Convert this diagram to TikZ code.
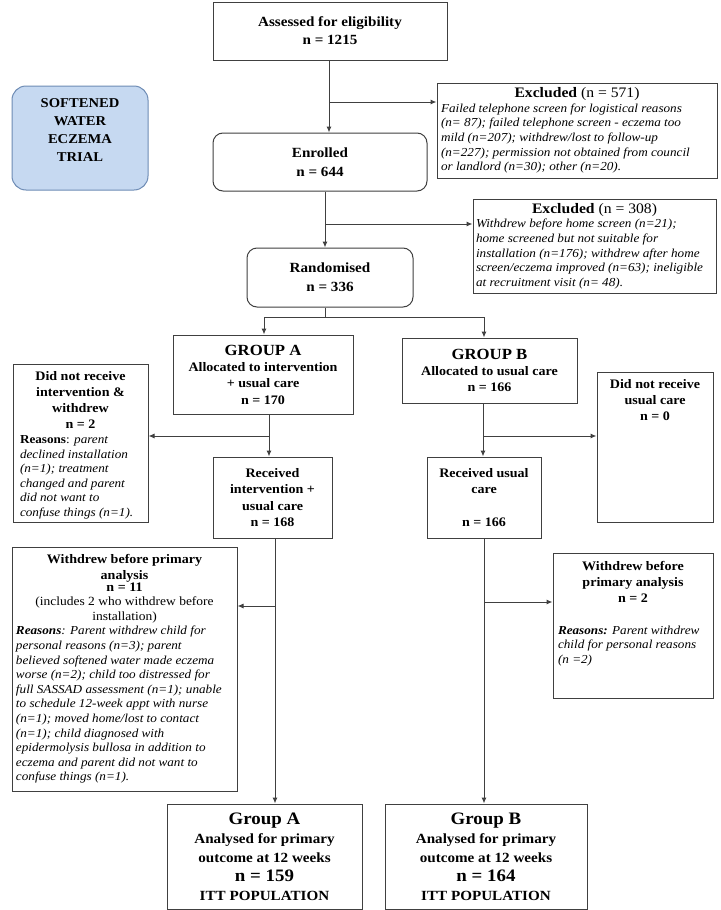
\documentclass[tikz,border=0pt]{standalone}
\usepackage{fontspec}
\setmainfont{Liberation Serif}[FakeStretch=1.08]
\usetikzlibrary{arrows.meta}
\definecolor{linec}{HTML}{404040}
\definecolor{softfill}{HTML}{C6D9F1}
\definecolor{softdraw}{HTML}{6E8CB5}
\newcommand\myBody{\fontsize{12.2}{14.6}\selectfont\mdseries\upshape}
\newcommand\myHead{\fontsize{13}{16.3}\selectfont\bfseries}
\tikzset{
  box/.style={draw=linec, line width=1pt, inner sep=0pt, align=center},
  rbox/.style={box, rounded corners=10pt},
  arr/.style={draw=linec, line width=1pt, -{Latex[length=6pt,width=5pt]}},
  ln/.style={draw=linec, line width=1pt},
}
\begin{document}
\begin{tikzpicture}[x=1pt,y=-1pt]
\useasboundingbox (0,0) rectangle (720,910);
\fill[white] (0,0) rectangle (720,910);

% top
\node[box, minimum width=234pt, minimum height=58pt] (assess) at (330,31)
  {\parbox{226pt}{\centering\fontsize{14}{18}\selectfont\bfseries Assessed for eligibility\\n = 1215}};

\node[rbox, draw=softdraw, fill=softfill, rounded corners=14pt, minimum width=136pt, minimum height=104pt] (soft) at (80,138) {};
\node[font=\fontsize{13.5}{18}\selectfont\bfseries, align=center] (softtxt) at (80,130) {SOFTENED\\WATER\\ECZEMA\\TRIAL};

\node[box, minimum width=280pt, minimum height=95pt] (excl1) at (577,130.5)
  {\parbox{272pt}{\centering{\fontsize{14.5}{16}\selectfont\textbf{Excluded} (n = 571)}\par
   \raggedright\myBody\itshape Failed telephone screen for logistical reasons\\(n= 87); failed telephone screen - eczema too\\mild (n=207); withdrew/lost to follow-up\\(n=227); permission not obtained from council\\or landlord (n=30); other (n=20).}};

\node[rbox, minimum width=214pt, minimum height=58pt] (enrol) at (320,162)
  {\parbox{206pt}{\centering\fontsize{14}{19}\selectfont\bfseries Enrolled\\n = 644}};

\node[box, minimum width=243pt, minimum height=94pt] (excl2) at (594.5,246)
  {\parbox{237pt}{\centering{\fontsize{14.5}{16}\selectfont\textbf{Excluded} (n = 308)}\par
   \raggedright\myBody\itshape Withdrew before home screen (n=21);\\home screened but not suitable for\\installation (n=176); withdrew after home\\screen/eczema improved (n=63); ineligible\\at recruitment visit (n= 48).}};

\node[rbox, minimum width=166pt, minimum height=59pt] (rand) at (330,277.5)
  {\parbox{158pt}{\centering\fontsize{14}{19}\selectfont\bfseries Randomised\\n = 336}};

% groups
\node[box, minimum width=180pt, minimum height=79pt] (gA) at (263,374.5)
  {\parbox{174pt}{\centering\myHead{\fontsize{15.5}{16.3}\selectfont GROUP A}\\Allocated to intervention\\+ usual care\\n = 170}};
\node[box, minimum width=175pt, minimum height=65pt] (gB) at (489.5,370.5)
  {\parbox{169pt}{\centering\myHead{\fontsize{15.5}{16.3}\selectfont GROUP B}\\Allocated to usual care\\n = 166}};

\node[box, minimum width=135pt, minimum height=158pt] (dnrA) at (80.5,443)
  {\parbox[c][154pt][t]{129pt}{\vspace*{5pt}\centering\myHead Did not receive\\intervention \&\\withdrew\\n = 2\par
   \raggedright\leftskip=4pt\myBody\textbf{Reasons}: {\itshape parent\\declined installation\\(n=1); treatment\\changed and parent\\did not want to\\confuse things (n=1).}}};

\node[box, minimum width=116pt, minimum height=150pt] (dnrB) at (655,447)
  {\parbox[c][146pt][t]{110pt}{\vspace*{5pt}\centering\myHead Did not receive\\usual care\\n = 0}};

\node[box, minimum width=119pt, minimum height=81pt] (recA) at (272.5,497.5)
  {\parbox{113pt}{\centering\myHead Received\\intervention +\\usual care\\n = 168}};
\node[box, minimum width=114pt, minimum height=81pt] (recB) at (484,497.5)
  {\parbox{110pt}{\centering\myHead Received usual\\care\\\mbox{}\\n = 166}};

% withdrew
\node[box, minimum width=225pt, minimum height=244pt] (wA) at (124.5,669)
  {\parbox{217pt}{\centering{\fontsize{13}{15.5}\selectfont\bfseries Withdrew before primary\\analysis\\n = 11}\par
   {\fontsize{12.5}{14.6}\selectfont (includes 2 who withdrew before\\installation)\par}
   \raggedright\myBody\itshape\textbf{Reasons}: Parent withdrew child for\\personal reasons (n=3); parent\\believed softened water made eczema\\worse (n=2); child too distressed for\\full SASSAD assessment (n=1); unable\\to schedule 12-week appt with nurse\\(n=1); moved home/lost to contact\\(n=1); child diagnosed with\\epidermolysis bullosa in addition to\\eczema and parent did not want to\\confuse things (n=1).}};

\node[box, minimum width=160pt, minimum height=145pt] (wB) at (633,625.5)
  {\parbox[c][141pt][t]{150pt}{\vspace*{6pt}\centering\myHead Withdrew before\\primary analysis\\n = 2\par\vspace{17pt}
   \raggedright\myBody\itshape\textbf{Reasons:} Parent withdrew\\child for personal reasons\\(n =2)}};

% analysed
\node[box, minimum width=195pt, minimum height=105pt] (anA) at (264.5,856.5)
  {\parbox{189pt}{\centering\bfseries\fontsize{14}{19}\selectfont{\fontsize{17.5}{19}\selectfont Group A}\\Analysed for primary\\outcome at 12 weeks\\{\fontsize{17.5}{19}\selectfont n = 159}\\ITT POPULATION}};
\node[box, minimum width=202pt, minimum height=105pt] (anB) at (486,856.5)
  {\parbox{196pt}{\centering\bfseries\fontsize{14}{19}\selectfont{\fontsize{17.5}{19}\selectfont Group B}\\Analysed for primary\\outcome at 12 weeks\\{\fontsize{17.5}{19}\selectfont n = 164}\\ITT POPULATION}};

% connectors
\coordinate (c1) at (329,102);
\draw[arr] (assess.south -| c1) -- (enrol.north -| c1);
\draw[arr] (c1) -- (c1 -| excl1.west);
\coordinate (c2) at (325,224);
\draw[arr] (enrol.south -| c2) -- (rand.north -| c2);
\draw[arr] (c2) -- (c2 -| excl2.west);
\coordinate (c3) at (325,317);
\coordinate (cA) at (264,317);
\coordinate (cB) at (484,317);
\draw[ln] (rand.south -| c3) -- (c3);
\draw[ln] (cA) -- (cB);
\draw[arr] (cA) -- (cA |- gA.north);
\draw[arr] (cB) -- (cB |- gB.north);
\coordinate (c4) at (269,436);
\draw[arr] (gA.south -| c4) -- (recA.north -| c4);
\draw[arr] (c4) -- (c4 -| dnrA.east);
\coordinate (c5) at (483,436);
\draw[arr] (gB.south -| c5) -- (recB.north -| c5);
\draw[arr] (c5) -- (c5 -| dnrB.west);
\coordinate (c6) at (275,606);
\draw[arr] (recA.south -| c6) -- (anA.north -| c6);
\draw[arr] (c6) -- (c6 -| wA.east);
\coordinate (c7) at (484,602);
\draw[arr] (recB.south -| c7) -- (anB.north -| c7);
\draw[arr] (c7) -- (c7 -| wB.west);
\end{tikzpicture}
\end{document}
